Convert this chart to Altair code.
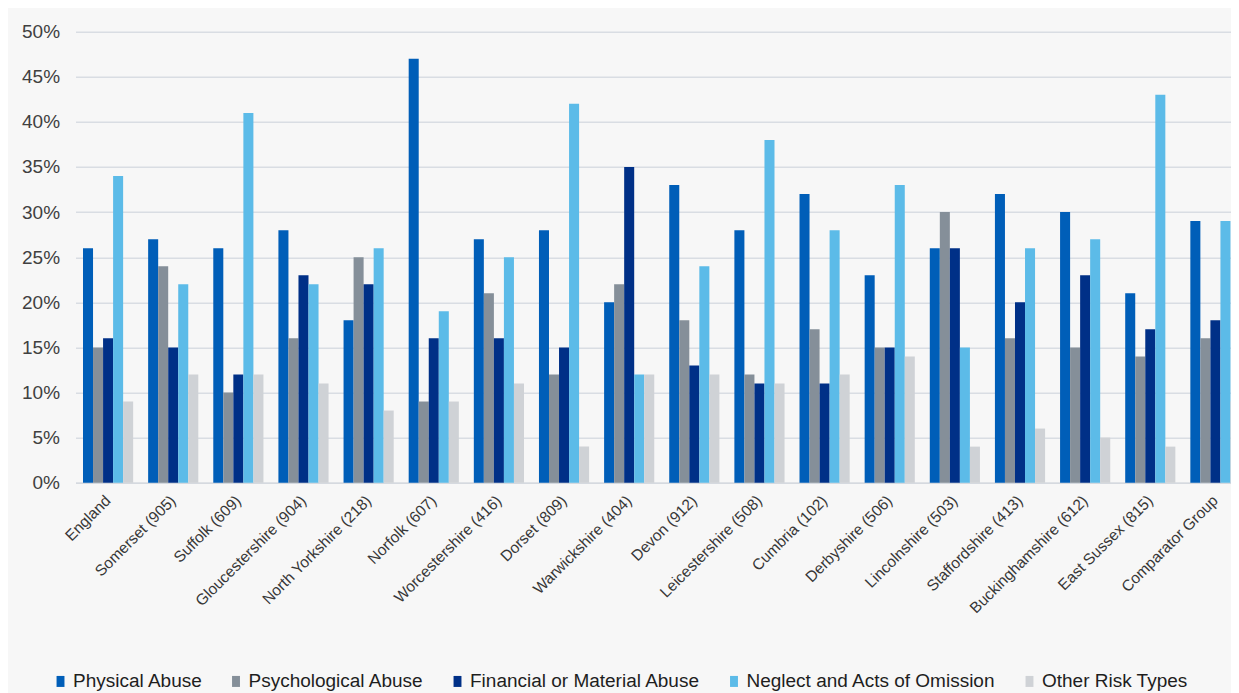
import altair as alt
import pandas as pd

areas = ["England", "Somerset (905)", "Suffolk (609)", "Gloucestershire (904)",
         "North Yorkshire (218)", "Norfolk (607)", "Worcestershire (416)", "Dorset (809)",
         "Warwickshire (404)", "Devon (912)", "Leicestershire (508)", "Cumbria (102)",
         "Derbyshire (506)", "Lincolnshire (503)", "Staffordshire (413)",
         "Buckinghamshire (612)", "East Sussex (815)", "Comparator Group"]
risk_types = ["Physical Abuse", "Psychological Abuse", "Financial or Material Abuse",
              "Neglect and Acts of Omission", "Other Risk Types"]
physical = [26, 27, 26, 28, 18, 47, 27, 28, 20, 33, 28, 32, 23, 26, 32, 30, 21, 29]
psychological = [15, 24, 10, 16, 25, 9, 21, 12, 22, 18, 12, 17, 15, 30, 16, 15, 14, 16]
financial = [16, 15, 12, 23, 22, 16, 16, 15, 35, 13, 11, 11, 15, 26, 20, 23, 17, 18]
neglect = [34, 22, 41, 22, 26, 19, 25, 42, 12, 24, 38, 28, 33, 15, 26, 27, 43, 29]
other = [9, 12, 12, 11, 8, 9, 11, 4, 12, 12, 11, 12, 14, 4, 6, 5, 4, 9]
y_ticks = [0, 5, 10, 15, 20, 25, 30, 35, 40, 45, 50]
colors = ["#005EB8", "#858F99", "#003087", "#5CBBE8", "#CFD2D6"]

series = [physical, psychological, financial, neglect, other]
rows = []
for t, vals in zip(risk_types, series):
    for a, v in zip(areas, vals):
        rows.append({"area": a, "type": t, "value": v})
df = pd.DataFrame(rows)

FONT = "Liberation Sans"

chart = alt.Chart(df).mark_bar().encode(
    x=alt.X("area:N", sort=areas,
            scale=alt.Scale(paddingInner=0.23, paddingOuter=0.115),
            axis=alt.Axis(title=None, labelAngle=-45, labelAlign="right",
                          labelBaseline="middle", labelFontSize=15.5,
                          labelColor="#383838", labelFont=FONT, ticks=False,
                          domain=True, domainColor="#d5d9df", domainWidth=1.5,
                          labelPadding=15, labelLimit=0)),
    xOffset=alt.XOffset("type:N", sort=risk_types),
    y=alt.Y("value:Q", scale=alt.Scale(domain=[0, 50], nice=False),
            axis=alt.Axis(title=None, values=y_ticks, labelExpr="datum.value + '%'",
                          labelFontSize=19, labelColor="#404040", labelFont=FONT,
                          ticks=False, domain=False, labelPadding=16,
                          gridColor="#d9dde3", gridWidth=1.5)),
    color=alt.Color("type:N", sort=risk_types,
                    scale=alt.Scale(domain=risk_types, range=colors),
                    legend=alt.Legend(title=None, orient="none", legendX=-24.5, legendY=640,
                                      direction="horizontal",
                                      symbolType="M-0.72,-1H0.72V1H-0.72Z",
                                      symbolSize=121, symbolStrokeWidth=0,
                                      labelFontSize=19, labelFont=FONT,
                                      labelColor="#1e1e1e", columnPadding=23.5,
                                      labelOffset=3, labelLimit=0, padding=0)),
).properties(
    width=1172.5,
    height=451,
    background="#f7f7f7",
    padding={"left": 67.5, "top": 23.7, "right": -17, "bottom": 230},
    autosize=alt.AutoSizeParams(type="none"),
).configure_view(stroke=None)

chart.save("out.html", embed_options={"renderer": "svg", "actions": False})
